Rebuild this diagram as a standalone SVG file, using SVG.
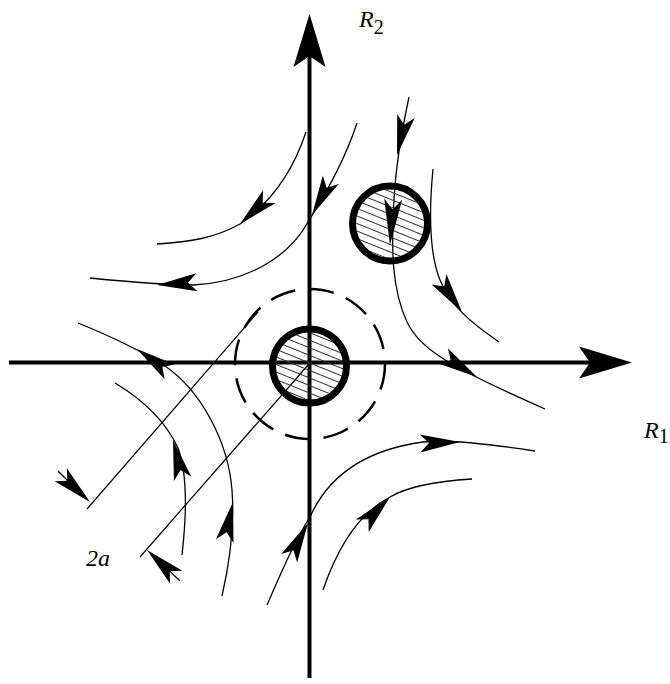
<svg xmlns="http://www.w3.org/2000/svg" xmlns:xlink="http://www.w3.org/1999/xlink" width="670" height="684" viewBox="0 0 670 684">
<style>
.axis{stroke:#000;stroke-width:4;fill:none}
.flow{stroke:#000;stroke-width:1.3;fill:none}
.dim{stroke:#000;stroke-width:1.2;fill:none}
.ring{stroke:#000;stroke-width:7}
.dash{stroke:#000;stroke-width:2.5;fill:none;stroke-dasharray:26 13}
.ah{fill:#000}
.lbl{font-family:"Liberation Serif","Times New Roman",serif;font-size:24px;fill:#000}
.sub{font-size:20px}
.dl{font-size:24px}
.it{font-style:italic}
</style>
<defs>
<path id="ah" d="M0,0 L-40,-9 L-31,0 L-40,9 Z"/>
<path id="axh" d="M0,0 L-53,-16 L-42,0 L-53,16 Z"/>
<pattern id="hatch" patternUnits="userSpaceOnUse" width="30" height="7" patternTransform="rotate(22)">
<line x1="0" y1="3.5" x2="30" y2="3.5" stroke="#333" stroke-width="1"/>
</pattern>
</defs>
<rect width="670" height="684" fill="#fff"/>

<g id="axes">
<line class="axis" x1="309.5" y1="55" x2="309.5" y2="678"/>
<line class="axis" x1="9" y1="362.5" x2="590" y2="362.5"/>
<use href="#axh" class="ah" transform="translate(309.5,14) rotate(-90)"/>
<use href="#axh" class="ah" transform="translate(632,362.5)"/>
<text class="lbl" x="359" y="27"><tspan class="it">R</tspan><tspan class="sub" dy="7">2</tspan></text>
<text class="lbl" x="644" y="438"><tspan class="it">R</tspan><tspan class="sub" dy="5">1</tspan></text>
</g>

<g id="dashed-circle">
<circle class="dash" cx="310" cy="364" r="75"/>
</g>

<g id="connectors">
<path class="flow" d="M306,132 C295,165 275,200 240,224 C215,238 190,242 157,244"/>
<path class="flow" d="M357,123 C345,160 325,195 308,222 C290,255 250,282 193,285 C160,285 120,281 90,278"/>
<path class="flow" d="M409,97 C403,125 396,160 394,200 C391,250 392,290 407,322 C420,348 445,365 545,409"/>
<path class="flow" d="M433,169 C430,200 428,250 440,280 C450,305 470,322 499,342"/>
<path class="flow" d="M267,605 C280,575 295,540 310,517 C322,490 350,452 423,442 C450,439 490,444 535,451"/>
<path class="flow" d="M323,590 C335,555 355,515 390,497 C410,485 440,481 472,479"/>
<path class="flow" d="M78,323 C110,336 140,350 165,366 C200,390 228,440 232,490 C235,530 228,570 222,596"/>
<path class="flow" d="M115,383 C140,398 165,420 178,448 C188,475 186,520 182,555"/>
<use href="#ah" class="ah" transform="translate(240,224) rotate(137)"/>
<use href="#ah" class="ah" transform="translate(312,215) rotate(118)"/>
<use href="#ah" class="ah" transform="translate(157,285) rotate(176)"/>
<use href="#ah" class="ah" transform="translate(397,155) rotate(103)"/>
<use href="#ah" class="ah" transform="translate(477,377) rotate(32)"/>
<use href="#ah" class="ah" transform="translate(462,312) rotate(55)"/>
<use href="#ah" class="ah" transform="translate(308,523) rotate(-62)"/>
<use href="#ah" class="ah" transform="translate(460,442) rotate(-2)"/>
<use href="#ah" class="ah" transform="translate(390,497) rotate(-46)"/>
<use href="#ah" class="ah" transform="translate(137,349) rotate(215)"/>
<use href="#ah" class="ah" transform="translate(173,440) rotate(-104)"/>
<use href="#ah" class="ah" transform="translate(233,502) rotate(-78)"/>
</g>

<g id="dimension">
<line class="dim" x1="87" y1="509" x2="258" y2="312"/>
<line class="dim" x1="140" y1="557" x2="309" y2="364"/>
<line class="dim" x1="58" y1="471" x2="80" y2="493"/>
<line class="dim" x1="180" y1="581" x2="158" y2="560"/>
<use href="#ah" class="ah" transform="translate(90,502) rotate(43)"/>
<use href="#ah" class="ah" transform="translate(147,550) rotate(223)"/>
<text class="lbl dl it" x="86" y="566">2a</text>
</g>

<g id="particle-center">
<circle cx="309.5" cy="366" r="34" fill="url(#hatch)"/>
<circle class="ring" cx="309.5" cy="366" r="37" fill="none"/>
</g>

<g id="particle-upper">
<circle cx="390" cy="223.5" r="34" fill="url(#hatch)"/>
<circle class="ring" cx="390" cy="223.5" r="37.5" fill="none"/>
<use href="#ah" class="ah" transform="translate(390,245) rotate(94) scale(1.15,1)"/>
</g>
</svg>
